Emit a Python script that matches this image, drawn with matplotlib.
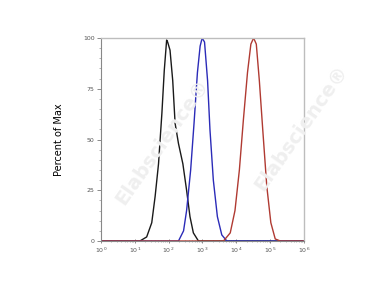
import matplotlib
matplotlib.use("Agg")
import matplotlib.pyplot as plt
import numpy as np
from matplotlib.ticker import LogLocator, MultipleLocator, FixedLocator

# log10 of fluorescence intensity and percent of max
black_logx = [0.0, 1.15, 1.35, 1.50, 1.60, 1.70, 1.80, 1.87, 1.94, 1.97, 2.04, 2.12, 2.19, 2.29,
              2.42, 2.53, 2.63, 2.73, 2.88, 6.0]
black_pct = [0, 0, 2, 9, 22, 38, 63, 84, 99, 98, 94, 79, 58, 48, 38, 25, 12, 4, 0, 0]

blue_logx = [0.0, 2.29, 2.44, 2.53, 2.65, 2.75, 2.85, 2.93, 2.99, 3.06, 3.15, 3.22, 3.32,
             3.44, 3.57, 3.72, 6.0]
blue_pct = [0, 0, 5, 15, 35, 58, 83, 96, 100, 98, 79, 55, 30, 12, 3, 0, 0]

red_logx = [0.0, 3.62, 3.82, 3.96, 4.09, 4.21, 4.33, 4.43, 4.51, 4.59, 4.68, 4.78, 4.90,
            5.02, 5.15, 5.30, 6.0]
red_pct = [0, 0, 4, 15, 35, 60, 83, 97, 100, 97, 79, 55, 27, 9, 1, 0, 0]

y_ticks = [0, 25, 50, 75, 100]
x_ticks = [1e0, 1e1, 1e2, 1e3, 1e4, 1e5, 1e6]
x_labels = ["10$^0$", "10$^1$", "10$^2$", "10$^3$", "10$^4$", "10$^5$", "10$^6$"]

fig = plt.figure(figsize=(3.86, 2.84), dpi=100)
ax = fig.add_axes([101 / 386, 43 / 284, 203 / 386, 203 / 284])

# faint watermark behind the curves
for xw, yw in [(0.42, 0.50), (0.78, 0.55)]:
    fig.text(xw, yw, "Elabscience\u00ae", fontsize=14, color="#efefef", rotation=55,
             ha="center", va="center", zorder=0, fontweight="bold")
ax.patch.set_alpha(0)

ax.plot(10 ** np.array(black_logx), black_pct, color="#1a1a1a", lw=1.0)
ax.plot(10 ** np.array(blue_logx), blue_pct, color="#2b2bb8", lw=1.0)
ax.plot(10 ** np.array(red_logx), red_pct, color="#b03a32", lw=1.0)

ax.set_xscale("log")
ax.set_xlim(1, 1e6)
ax.set_ylim(0, 100)

ax.xaxis.set_major_locator(FixedLocator(x_ticks))
ax.set_xticklabels(x_labels)
ax.xaxis.set_minor_locator(LogLocator(base=10, subs=np.arange(2, 10)))
ax.set_yticks(y_ticks)
ax.yaxis.set_minor_locator(MultipleLocator(5))

ax.tick_params(axis="both", which="major", labelsize=4.5, labelcolor="#555555",
               color="#777777", width=0.6, length=3)
ax.tick_params(axis="both", which="minor", color="#999999", width=0.5, length=1.6)
ax.tick_params(axis="x", which="both", direction="inout", pad=2)
ax.tick_params(axis="y", which="both", pad=1.5)

for side in ["top", "right"]:
    ax.spines[side].set_color("#bdbdbd")
    ax.spines[side].set_linewidth(1.0)
for side in ["left", "bottom"]:
    ax.spines[side].set_color("#888888")
    ax.spines[side].set_linewidth(0.8)

ax.set_ylabel("Percent of Max", fontsize=7, labelpad=14)

fig.savefig("out.png", dpi=100)
